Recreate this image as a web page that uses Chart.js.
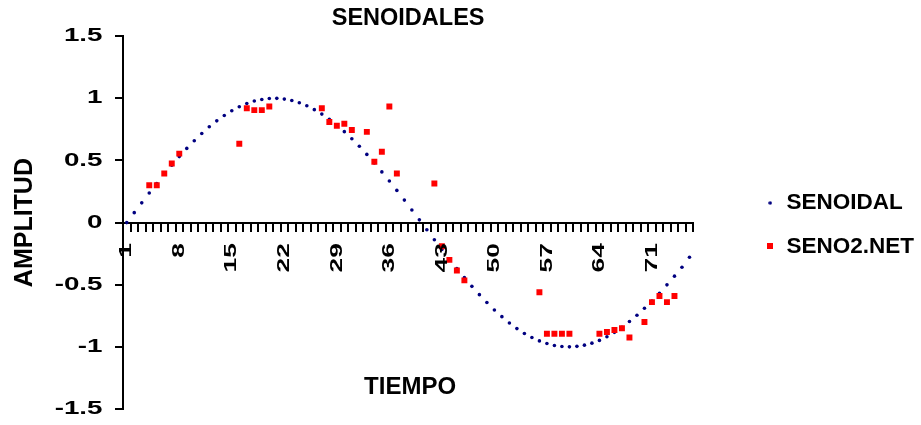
<!DOCTYPE html>
<html>
<head>
<meta charset="utf-8">
<script src="https://cdn.jsdelivr.net/npm/chart.js@4.4.1/dist/chart.umd.min.js"></script>
<style>
html,body{margin:0;padding:0;background:#ffffff;}
#wrap{width:921px;height:425px;position:relative;}
</style>
</head>
<body>
<div id="wrap"><canvas id="c" width="921" height="425"></canvas></div>
<script>
const categories = ['1','2','3','4','5','6','7','8','9','10','11','12','13','14','15','16','17','18','19','20',
  '21','22','23','24','25','26','27','28','29','30','31','32','33','34','35','36','37','38','39','40',
  '41','42','43','44','45','46','47','48','49','50','51','52','53','54','55','56','57','58','59','60',
  '61','62','63','64','65','66','67','68','69','70','71','72','73','74','75','76'];

const tickLabels = ['1','8','15','22','29','36','43','50','57','64','71'];
const yTickLabels = ['-1.5','-1','-0.5','0','0.5','1','1.5'];

const senoidal = [
  0.000, 0.080, 0.159, 0.238, 0.315, 0.389, 0.462, 0.531, 0.597, 0.659,
  0.717, 0.771, 0.819, 0.862, 0.900, 0.932, 0.958, 0.978, 0.991, 0.999,
  1.000, 0.994, 0.982, 0.964, 0.940, 0.909, 0.873, 0.831, 0.784, 0.732,
  0.675, 0.615, 0.549, 0.480, 0.408, 0.335, 0.259, 0.181, 0.101, 0.022,
  -0.058, -0.138, -0.217, -0.294, -0.369, -0.443, -0.513, -0.580, -0.643, -0.703,
  -0.757, -0.808, -0.853, -0.892, -0.925, -0.952, -0.973, -0.989, -0.997, -1.000,
  -0.996, -0.986, -0.970, -0.948, -0.919, -0.883, -0.843, -0.796, -0.745, -0.689,
  -0.631, -0.568, -0.501, -0.431, -0.359, -0.279
];

const seno2net = [
  null, null, null, 0.30, 0.30, 0.395, 0.475, 0.555, null, null,
  null, null, null, null, null, 0.635, 0.92, 0.905, 0.905, 0.935,
  null, null, null, null, null, null, 0.92, 0.81, 0.78, 0.795,
  0.745, null, 0.73, 0.49, 0.57, 0.935, 0.395, null, null, null,
  null, 0.315, -0.19, -0.30, -0.385, -0.465, null, null, null, null,
  null, null, null, null, null, -0.56, -0.895, -0.895, -0.895, -0.895,
  null, null, null, -0.895, -0.88, -0.865, -0.85, -0.925, null, -0.80,
  -0.64, -0.59, -0.64, -0.59, null, null
];

const seriesNames = ['SENOIDAL', 'SENO2.NET'];
const seriesColors = ['#000080', '#ff0000'];

const FONT = '"Liberation Sans", Arial, sans-serif';

function makeMarker(kind, color) {
  const cv = document.createElement('canvas');
  const ctx = cv.getContext('2d');
  if (kind === 'circle') {
    cv.width = 4; cv.height = 4;
    ctx.fillStyle = color;
    ctx.beginPath(); ctx.arc(2, 2, 1.8, 0, Math.PI * 2); ctx.fill();
  } else {
    cv.width = 6; cv.height = 6;
    ctx.fillStyle = color;
    ctx.fillRect(0, 0, 6, 6);
  }
  return cv;
}
const legendMarkers = [makeMarker('circle', seriesColors[0]), makeMarker('rect', seriesColors[1])];

const xTitlePlugin = {
  id: 'xTitle',
  afterDraw(chart) {
    const a = chart.chartArea;
    const ctx = chart.ctx;
    ctx.save();
    ctx.fillStyle = '#000';
    ctx.font = 'bold 24px ' + FONT;
    ctx.textAlign = 'center';
    ctx.textBaseline = 'middle';
    ctx.fillText('TIEMPO', (a.left + a.right) / 2 + 2, a.bottom - 22);
    ctx.restore();
  }
};

/* tick labels in the original are drawn wide (stretched along the reading direction) */
const stretchPlugin = {
  id: 'tickStretch',
  afterLayout(chart) {
    const wrap = (scale, sx) => {
      if (!scale || scale.__stretched) return;
      const orig = scale.drawLabels;
      scale.drawLabels = function (area) {
        const c = this.ctx;
        const nativeFill = CanvasRenderingContext2D.prototype.fillText;
        c.fillText = function (t, x, y, mw) {
          this.save();
          this.translate(x, y);
          this.scale(sx, 1);
          if (mw === undefined) nativeFill.call(this, t, 0, 0);
          else nativeFill.call(this, t, 0, 0, mw / sx);
          this.restore();
        };
        try { orig.call(this, area); } finally { delete c.fillText; }
      };
      scale.__stretched = true;
    };
    wrap(chart.scales.x, 1.55);
    wrap(chart.scales.y, 1.5);
  }
};

new Chart(document.getElementById('c'), {
  type: 'line',
  data: {
    labels: categories,
    datasets: [
      {
        label: seriesNames[0],
        data: senoidal,
        showLine: false,
        pointStyle: 'circle',
        pointRadius: 1.8,
        pointBorderWidth: 0,
        backgroundColor: seriesColors[0],
        borderColor: seriesColors[0],
        order: 1
      },
      {
        label: seriesNames[1],
        data: seno2net,
        showLine: false,
        pointStyle: 'rect',
        pointRadius: 4.2,
        pointBorderWidth: 0,
        backgroundColor: seriesColors[1],
        borderColor: seriesColors[1],
        order: 0
      }
    ]
  },
  options: {
    responsive: false,
    animation: false,
    devicePixelRatio: 1,
    layout: { padding: { left: 0, right: -3, top: 3, bottom: 16 } },
    plugins: {
      title: {
        display: true,
        text: 'SENOIDALES',
        fullSize: false,
        color: '#000',
        font: { family: FONT, size: 23.5, weight: 'bold' },
        padding: { top: 1, bottom: 4 }
      },
      legend: {
        position: 'right',
        fullSize: false,
        align: 'center',
        maxWidth: 400,
        title: { display: true, text: '', font: { size: 1 }, padding: 1.5 },
        labels: {
          usePointStyle: true,
          boxWidth: 10,
          boxHeight: 10,
          padding: 21,
          color: '#000',
          font: { family: FONT, size: 22.5, weight: 'bold' },
          generateLabels(chart) {
            const items = Chart.defaults.plugins.legend.labels.generateLabels(chart);
            items.sort((a, b) => a.datasetIndex - b.datasetIndex);
            items.forEach(it => { it.pointStyle = legendMarkers[it.datasetIndex]; });
            return items;
          }
        }
      },
      tooltip: { enabled: false }
    },
    scales: {
      x: {
        type: 'category',
        position: { y: 0 },
        offset: true,
        grid: {
          offset: true,
          drawOnChartArea: false,
          drawTicks: true,
          tickLength: 8,
          color: '#000',
          lineWidth: 2
        },
        border: { display: true, color: '#000', width: 2 },
        ticks: {
          autoSkip: false,
          minRotation: 90,
          maxRotation: 90,
          padding: 12.5,
          z: 1,
          color: '#000',
          font: { family: FONT, size: 17, weight: 'bold' },
          callback(v, i) {
            const l = categories[i];
            return tickLabels.includes(l) ? l : '';
          }
        }
      },
      y: {
        position: 'left',
        min: -1.5,
        max: 1.5,
        grid: {
          drawOnChartArea: false,
          drawTicks: true,
          tickLength: 8,
          color: '#000',
          lineWidth: 2
        },
        border: { display: true, color: '#000', width: 2 },
        ticks: {
          stepSize: 0.5,
          padding: 12.5,
          color: '#000',
          font: { family: FONT, size: 18.5, weight: 'bold' },
          callback(v, i) { return yTickLabels[i]; }
        },
        title: {
          display: true,
          text: 'AMPLITUD',
          color: '#000',
          font: { family: FONT, size: 25, weight: 'bold' },
          padding: { top: 10, bottom: 0 }
        },
        afterFit(s) { s.width = 123; s.paddingTop = 0; s.paddingBottom = 0; }
      },
      gap: {
        type: 'linear',
        position: 'right',
        display: true,
        grid: { display: false },
        border: { display: false },
        ticks: { display: false },
        afterFit(s) { s.width = 51; s.paddingTop = 0; s.paddingBottom = 0; }
      }
    }
  },
  plugins: [xTitlePlugin, stretchPlugin]
});
</script>
</body>
</html>
